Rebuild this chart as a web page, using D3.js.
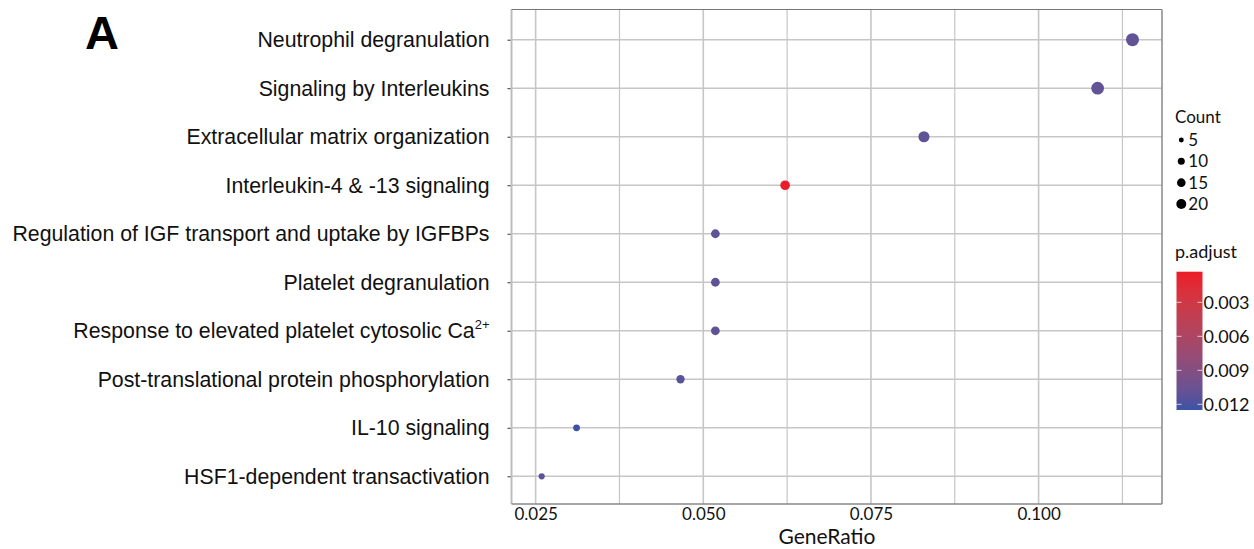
<!DOCTYPE html>
<html>
<head>
<meta charset="utf-8">
<script src="https://cdn.jsdelivr.net/npm/d3@7"></script>
<style>
  html, body { margin: 0; padding: 0; background: #fff; }
  svg { display: block; }
</style>
</head>
<body>
<svg id="chart" width="1254" height="549"></svg>
<script>
// ---------- data ----------
const categories = [
  "Neutrophil degranulation",
  "Signaling by Interleukins",
  "Extracellular matrix organization",
  "Interleukin-4 & -13 signaling",
  "Regulation of IGF transport and uptake by IGFBPs",
  "Platelet degranulation",
  "Response to elevated platelet cytosolic Ca",
  "Post-translational protein phosphorylation",
  "IL-10 signaling",
  "HSF1-dependent transactivation"
];
const superscripts = ["", "", "", "", "", "", "2+", "", "", ""];
const geneRatio = [0.1140, 0.1088, 0.0829, 0.0622, 0.0518, 0.0518, 0.0518, 0.0466, 0.0311, 0.0259];
const counts    = [22, 21, 16, 12, 10, 10, 10, 9, 6, 5];
const pAdjust   = [0.0110, 0.0110, 0.0111, 0.0003, 0.0111, 0.0111, 0.0111, 0.0114, 0.0125, 0.0111];
const xTicks = [0.025, 0.050, 0.075, 0.100];
const xMinor = [0.0375, 0.0625, 0.0875, 0.1125];
const sizeLegendValues = [5, 10, 15, 20];
const colorTicks = [0.003, 0.006, 0.009, 0.012];
const pRange = [0.0003, 0.0125];

// ---------- layout ----------
const svg = d3.select("#chart");
const panel = { left: 511.5, right: 1162, top: 9.5, bottom: 504 };

const x = d3.scaleLinear().domain([0.0214, 0.1184]).range([panel.left, panel.right]);
const y = d3.scalePoint().domain(categories).range([39.7, 476.3]).padding(0);
const r = d3.scaleSqrt().domain([0, 22]).range([0, 6.5]);
const color = d3.scaleLinear().domain(pRange).range(["#ec1c28", "#3b54a5"]).interpolate(d3.interpolateLab);

const gridColor = "#c6c6c6";

// gridlines
const g = svg.append("g");
g.selectAll("line.minor").data(xMinor).join("line")
  .attr("x1", d => x(d)).attr("x2", d => x(d))
  .attr("y1", panel.top).attr("y2", panel.bottom)
  .attr("stroke", gridColor).attr("stroke-width", 1.2);
g.selectAll("line.major").data(xTicks).join("line")
  .attr("x1", d => x(d)).attr("x2", d => x(d))
  .attr("y1", panel.top).attr("y2", panel.bottom)
  .attr("stroke", gridColor).attr("stroke-width", 1.6);
g.selectAll("line.hgrid").data(categories).join("line")
  .attr("x1", panel.left).attr("x2", panel.right)
  .attr("y1", d => y(d)).attr("y2", d => y(d))
  .attr("stroke", gridColor).attr("stroke-width", 1.6);

// panel border
svg.append("line").attr("x1", panel.left).attr("x2", panel.left).attr("y1", panel.top).attr("y2", panel.bottom)
  .attr("stroke", "#bdbdbd").attr("stroke-width", 2);
svg.append("line").attr("x1", panel.left).attr("x2", panel.right).attr("y1", panel.top).attr("y2", panel.top)
  .attr("stroke", "#777").attr("stroke-width", 1.2);
svg.append("line").attr("x1", panel.right).attr("x2", panel.right).attr("y1", panel.top).attr("y2", panel.bottom)
  .attr("stroke", "#888").attr("stroke-width", 1.5);
svg.append("line").attr("x1", panel.left).attr("x2", panel.right).attr("y1", panel.bottom).attr("y2", panel.bottom)
  .attr("stroke", "#888").attr("stroke-width", 1.5);

// axes
const xAxis = d3.axisBottom(x).tickValues(xTicks).tickFormat(d3.format(".3f")).tickSize(0).tickPadding(4);
const xg = svg.append("g").attr("transform", `translate(0,${panel.bottom})`).call(xAxis);
xg.select(".domain").remove();
xg.selectAll(".tick text").attr("font-family", "Lato, 'Open Sans', sans-serif").attr("font-size", 17).attr("fill", "#111");

const yAxis = d3.axisLeft(y).tickSize(3).tickFormat("").tickPadding(0);
const yg = svg.append("g").attr("transform", `translate(${panel.left - 1},0)`).call(yAxis);
yg.select(".domain").remove();
yg.selectAll(".tick line").attr("stroke", "#333");

// y labels
const labels = svg.append("g").selectAll("text").data(categories).join("text")
  .attr("x", 489.5).attr("y", d => y(d)).attr("dy", "0.36em")
  .attr("text-anchor", "end")
  .attr("font-family", "'Liberation Sans', Arial, sans-serif")
  .attr("font-size", 21.3).attr("fill", "#111");
labels.each(function(d, i) {
  const t = d3.select(this);
  t.append("tspan").text(d);
  if (superscripts[i]) {
    t.append("tspan").text(superscripts[i]).attr("font-size", 13).attr("dy", "-0.75em");
  }
});

// axis title
svg.append("text").attr("x", 827).attr("y", 543.5).attr("text-anchor", "middle")
  .attr("font-family", "Lato, 'Open Sans', sans-serif").attr("font-size", 21).attr("fill", "#111")
  .text("GeneRatio");

// panel letter
svg.append("text").attr("x", 85).attr("y", 49)
  .attr("font-family", "'Liberation Sans', Arial, sans-serif").attr("font-weight", "bold")
  .attr("font-size", 47).attr("fill", "#000").text("A");

// points
svg.append("g").selectAll("circle").data(categories).join("circle")
  .attr("cx", (d, i) => x(geneRatio[i]))
  .attr("cy", d => y(d))
  .attr("r", (d, i) => r(counts[i]))
  .attr("fill", (d, i) => color(pAdjust[i]));

// size legend
const legFont = "Lato, 'Open Sans', sans-serif";
svg.append("text").attr("x", 1175).attr("y", 123).attr("font-family", legFont)
  .attr("font-size", 17).attr("fill", "#111").text("Count");
const sizeY = d3.scalePoint().domain(sizeLegendValues).range([140, 204]);
const sl = svg.append("g").selectAll("g").data(sizeLegendValues).join("g")
  .attr("transform", d => `translate(1181.3,${sizeY(d)})`);
sl.append("circle").attr("r", d => r(d) * 0.8).attr("fill", "#000");
sl.append("text").attr("x", 7).attr("dy", "0.36em").attr("font-family", legFont)
  .attr("font-size", 17).attr("fill", "#111").text(d => d);

// color legend
svg.append("text").attr("x", 1175).attr("y", 258).attr("font-family", legFont)
  .attr("font-size", 18).attr("fill", "#111").text("p.adjust");
const cb = { x: 1176.5, w: 26, top: 271.7, bottom: 410 };
const cy = d3.scaleLinear().domain(pRange).range([cb.top, cb.bottom]);
const defs = svg.append("defs");
const grad = defs.append("linearGradient").attr("id", "pgrad")
  .attr("x1", 0).attr("y1", 0).attr("x2", 0).attr("y2", 1);
d3.range(0, 1.0001, 0.05).forEach(t => {
  const v = pRange[0] + t * (pRange[1] - pRange[0]);
  grad.append("stop").attr("offset", t).attr("stop-color", color(v));
});
svg.append("rect").attr("x", cb.x).attr("y", cb.top).attr("width", cb.w).attr("height", cb.bottom - cb.top)
  .attr("fill", "url(#pgrad)");
const ct = svg.append("g").selectAll("g").data(colorTicks).join("g")
  .attr("transform", d => `translate(0,${cy(d)})`);
ct.append("line").attr("x1", cb.x).attr("x2", cb.x + 5).attr("stroke", "#fff").attr("stroke-opacity", 0.7).attr("stroke-width", 1);
ct.append("line").attr("x1", cb.x + cb.w - 5).attr("x2", cb.x + cb.w).attr("stroke", "#fff").attr("stroke-opacity", 0.7).attr("stroke-width", 1);
ct.append("text").attr("x", 1203.5).attr("dy", "0.36em").attr("font-family", legFont)
  .attr("font-size", 18).attr("fill", "#111").text(d => d3.format(".3f")(d));
</script>
</body>
</html>
